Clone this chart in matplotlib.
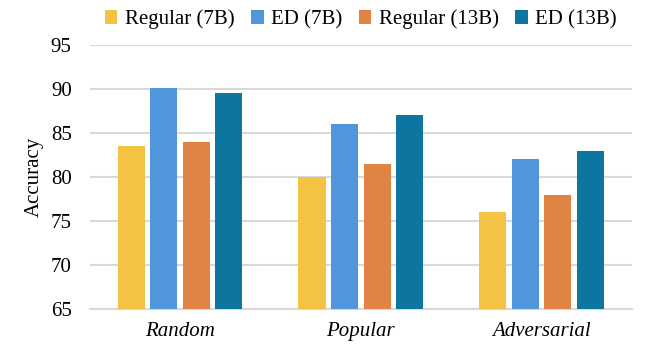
import matplotlib.pyplot as plt
import numpy as np

plt.rcParams['font.family'] = ['Liberation Serif', 'DejaVu Serif']

categories = ['Random', 'Popular', 'Adversarial']
series = ['Regular (7B)', 'ED (7B)', 'Regular (13B)', 'ED (13B)']
regular_7b = [83.5, 80.0, 76.0]
ed_7b = [90.1, 86.0, 82.0]
regular_13b = [84.0, 81.5, 78.0]
ed_13b = [89.5, 87.0, 83.0]
colors = ['#F4C343', '#5096DB', '#E08446', '#0C76A0']

fig = plt.figure(figsize=(6.46, 3.54), dpi=100)
ax = fig.add_axes([0.139, 0.127, 0.839, 0.746])

x = np.arange(len(categories))
w = 0.15
step = 0.18
for i, (vals, name) in enumerate(zip([regular_7b, ed_7b, regular_13b, ed_13b], series)):
    ax.bar(x + (i - 1.5) * step, np.array(vals) - 65, width=w, bottom=65,
           color=colors[i], label=name, zorder=3)

ax.set_xlim(-0.5, 2.5)
ax.set_ylim(65, 95)
ax.set_yticks(range(65, 96, 5))
ax.set_xticks(x)
ax.set_xticklabels(categories, fontstyle='italic', fontsize=15)
ax.tick_params(axis='y', labelsize=15, length=0, pad=13)
ax.tick_params(axis='x', length=0, pad=9)
ax.grid(axis='y', color='#D9D9D9', linewidth=1.5, zorder=0)
for s in ['top', 'right', 'left']:
    ax.spines[s].set_visible(False)
ax.spines['bottom'].set_color('#D9D9D9')
ax.spines['bottom'].set_linewidth(1.5)
ax.set_ylabel('Accuracy', fontsize=15)
ax.yaxis.set_label_coords(-0.084, 0.5)

ax.legend(loc='lower center', bbox_to_anchor=(0.5, 1.0), ncol=4, frameon=False,
          fontsize=15, handlelength=0.6, handleheight=0.6, handletextpad=0.35,
          columnspacing=0.8, borderaxespad=0.35)

fig.savefig('out.png', dpi=100)
